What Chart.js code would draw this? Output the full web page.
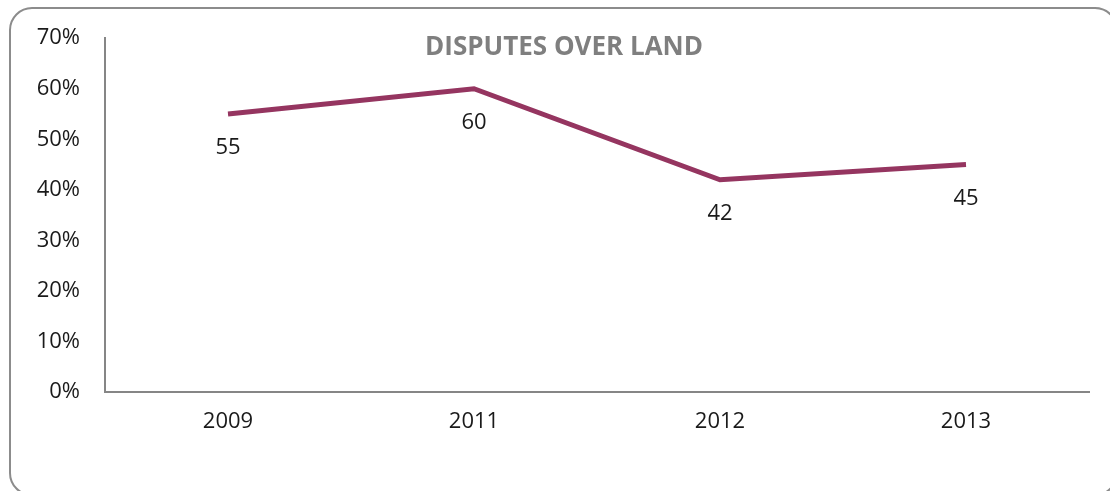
<!DOCTYPE html>
<html>
<head>
<meta charset="utf-8">
<script src="https://cdn.jsdelivr.net/npm/chart.js@4"></script>
<style>
  html, body { margin: 0; padding: 0; background: #fff; overflow: hidden; }
  canvas { display: block; }
</style>
</head>
<body>
<canvas id="chart" width="1110" height="491"></canvas>
<script>
const years = ['2009', '2011', '2012', '2013'];
const landDisputes = [55, 60, 42, 45];
const yTicks = [0, 10, 20, 30, 40, 50, 60, 70];
const chartTitle = 'DISPUTES OVER LAND';

const FONT = "'Open Sans', 'DejaVu Sans', sans-serif";

// rounded frame round the whole chart
const framePlugin = {
  id: 'frame',
  beforeDraw(chart) {
    const ctx = chart.ctx;
    ctx.save();
    ctx.strokeStyle = '#8c8c8c';
    ctx.lineWidth = 2;
    ctx.beginPath();
    ctx.roundRect(10, 8, 1107, 487, 22);
    ctx.stroke();
    ctx.restore();
  }
};

// value under each point, plus the title inside the plot
const labelsPlugin = {
  id: 'valueLabels',
  afterDatasetsDraw(chart) {
    const ctx = chart.ctx;
    const meta = chart.getDatasetMeta(0);
    ctx.save();
    ctx.font = '22px ' + FONT;
    ctx.fillStyle = '#1a1a1a';
    ctx.textAlign = 'center';
    ctx.textBaseline = 'middle';
    meta.data.forEach((pt, i) => {
      ctx.fillText(String(landDisputes[i]), pt.x, pt.y + 34);
    });
    ctx.font = 'bold 26px ' + FONT;
    ctx.fillStyle = '#7f7f7f';
    ctx.fillText(chartTitle, 564, 48);
    ctx.restore();
  }
};

new Chart(document.getElementById('chart'), {
  type: 'line',
  data: {
    labels: years,
    datasets: [{
      data: landDisputes,
      borderColor: '#953560',
      borderWidth: 5,
      pointRadius: 0,
      tension: 0,
      fill: false
    }]
  },
  options: {
    responsive: false,
    animation: false,
    layout: { padding: { top: 35, right: 21, left: 0, bottom: 0 } },
    plugins: {
      legend: { display: false },
      tooltip: { enabled: false }
    },
    scales: {
      x: {
        offset: true,
        grid: { display: false, drawTicks: false },
        border: { display: true, color: '#868686', width: 2 },
        ticks: {
          color: '#1a1a1a',
          font: { family: FONT, size: 22 },
          padding: 17,
          maxRotation: 0
        },
        afterFit(scale) { scale.height = 99; }
      },
      y: {
        min: 0,
        max: 70,
        grid: { display: false, drawTicks: false },
        border: { display: true, color: '#868686', width: 2 },
        afterBuildTicks(scale) { scale.ticks = yTicks.map(v => ({ value: v })); },
        ticks: {
          color: '#1a1a1a',
          font: { family: FONT, size: 22 },
          padding: 25,
          callback: v => v + '%'
        },
        afterFit(scale) { scale.width = 105; }
      }
    }
  },
  plugins: [framePlugin, labelsPlugin]
});
</script>
</body>
</html>
